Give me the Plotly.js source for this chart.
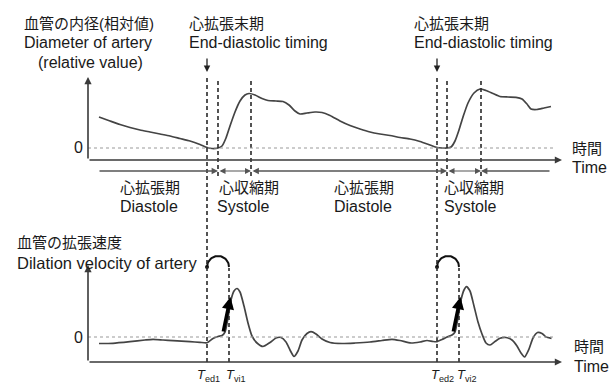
<!DOCTYPE html>
<html>
<head>
<meta charset="utf-8">
<script src="https://cdn.plot.ly/plotly-3.0.1.min.js"></script>
<style>html,body{margin:0;padding:0;background:#fff;}#chart{width:614px;height:385px;}</style>
</head>
<body>
<div id="chart"></div>
<script>
// ---- Data (time in arbitrary units, values relative) ----
// Upper panel: vessel diameter (relative value)
var diamTime = [11,22,32,42,52,62,72,82,92,102,112,119,124,130,134,138,142,147,152,157,161,167,174,180,188,195,201,207,212,219,227,234,242,252,262,272,282,292,302,312,322,332,342,349,354,359,363,367,371,375,380,386,392,398,405,412,420,428,434,439,443,449,456,463];
var diamVal  = [31,27,23.5,20.5,18,16,14,12,9.5,7,3.5,0.5,-0.5,0,2,10,22,36,47,53,54.5,53,49.5,47.5,47,46.5,43,37,34,35,36,35.5,32.5,27,22.5,19,16,14,12.5,10.5,9,6.5,3,0.5,0,0,1,7,18,31,45,55,59,57.5,54.5,51.5,51,50.7,49,44,39,38.5,40,41.5];
// Lower panel: dilation velocity of artery
var velTime = [11,25,42,57,65,75,85,102,112,119,125,130,134,137,140,143,146,149,152,156,160,164,169,175,182,188,193,198,202,206,210,214,219,223,228,234,242,254,267,282,294,304,312,323,332,339,345,349,354,359,364,367,370,373,376,378.5,382,386,390,394,398,402,407,412,418,424,429,433,436.5,441,445,449.5,454,458,463.5];
var velVal  = [-6.5,-6.3,-4.7,-3,-2.3,-3,-3.7,-4.7,-5.3,-5.7,-1.5,0.5,1.5,5,19,37,46,48.5,45,31,14,1,-6,-9.5,-5.5,-1,-0.5,-5,-13,-19.5,-14,-3,3.5,5.3,3,-2,-5.5,-6.5,-6,-5,-3.5,-2.3,-3.5,-6,-5,-3.5,-4.5,-4.7,-2.5,0,2,5,19,37,47,50.3,46,31,15,3,-6,-8,-4.5,-1.3,-0.5,-3,-9,-16,-20,-12,-1,4.5,3.5,0,-1.3];
// Event timings
var tEd = [119, 349];        // end-diastolic timing T_ed
var tSysStart = [130, 359];  // systole start
var tPeak = [163, 393];      // diameter peak (end of systole)
var tVi = [141, 371];        // T_vi
var edLabels = ['<i>T</i><sub>ed1</sub>', '<i>T</i><sub>ed2</sub>'];
var viLabels = ['<i>T</i><sub>vi1</sub>', '<i>T</i><sub>vi2</sub>'];

var W = 614, H = 385;
var FONT = 'Liberation Sans, Arial, Noto Sans CJK JP, sans-serif';
var LINE = '#3a3a3a';

function txt(text, px, py, xa, size) {
  return {xref:'paper', yref:'paper', x: px / W, y: 1 - py / H, xanchor: xa || 'left', yanchor: 'middle',
    showarrow: false, text: text, font: {family: FONT, size: size || 16, color: '#1a1a1a'}};
}
function arr(x0, y0, x1, y1, yref, o) {
  o = o || {};
  return {x: x1, y: y1, ax: x0, ay: y0, xref: 'x', yref: yref, axref: 'x', ayref: yref,
    showarrow: true, text: '', arrowhead: o.head == null ? 2 : o.head, arrowsize: o.size || 1,
    arrowwidth: o.width || 1.5, arrowcolor: o.color || LINE, standoff: 0, startstandoff: 0,
    arrowside: o.side || 'end', startarrowhead: o.head == null ? 2 : o.head, startarrowsize: o.size || 1};
}

var traces = [];
traces.push({x: diamTime, y: diamVal, xaxis: 'x', yaxis: 'y', mode: 'lines',
  line: {color: '#444', width: 1.7, shape: 'spline', smoothing: 0.6}, hoverinfo: 'skip'});
traces.push({x: velTime, y: velVal, xaxis: 'x', yaxis: 'y2', mode: 'lines',
  line: {color: '#444', width: 1.7, shape: 'spline', smoothing: 0.6}, hoverinfo: 'skip'});

// arcs between T_ed and T_vi
var ARC_BASE = 70;
for (var i = 0; i < tEd.length; i++) {
  var c = (tEd[i] + tVi[i]) / 2, r = (tVi[i] - tEd[i]) / 2, ax = [], ay = [];
  for (var k = 0; k <= 40; k++) {
    var a = Math.PI * (1 - k / 40);
    ax.push(c + r * Math.cos(a)); ay.push(ARC_BASE + r * Math.sin(a));
  }
  traces.push({x: ax, y: ay, xaxis: 'x', yaxis: 'y2', mode: 'lines', line: {color: '#111', width: 2}, hoverinfo: 'skip'});
  traces.push({x: [tEd[i]], y: [ARC_BASE], xaxis: 'x', yaxis: 'y2', mode: 'markers', marker: {color: '#111', size: 4}, hoverinfo: 'skip'});
}

var shapes = [];
function vline(t, py0, py1) {
  shapes.push({type: 'line', xref: 'x', yref: 'paper', x0: t, x1: t, y0: 1 - py1 / H, y1: 1 - py0 / H,
    line: {color: '#2a2a2a', width: 1.6, dash: '4px,3px'}});
}
for (var i = 0; i < tEd.length; i++) {
  vline(tEd[i], 78, 362);
  vline(tSysStart[i], 78, 176);
  vline(tPeak[i], 78, 176);
  vline(tVi[i], 268, 362);
}
// zero reference lines
shapes.push({type: 'line', xref: 'x', yref: 'y', x0: 0, x1: 467, y0: 0, y1: 0, line: {color: '#9a9a9a', width: 1.2, dash: 'dot'}});
shapes.push({type: 'line', xref: 'x', yref: 'y2', x0: 0, x1: 467, y0: 0, y1: 0, line: {color: '#9a9a9a', width: 1.2, dash: 'dot'}});

var ann = [];
// axes
ann.push(arr(0, -12, 0, 71, 'y', {width: 1.6, size: 0.9}));
ann.push(arr(0, -12, 474, -12, 'y', {width: 1.6, size: 0.9}));
ann.push(arr(0, -25, 0, 72, 'y2', {width: 1.6, size: 0.9}));
ann.push(arr(0, -25, 474, -25, 'y2', {width: 1.6, size: 0.9}));
// phase arrows
ann.push(arr(10, -23, tSysStart[0], -23, 'y', {width: 1.6, size: 0.8, color: '#555'}));
ann.push(arr(tSysStart[0], -23, tPeak[0], -23, 'y', {width: 1.2, size: 1, side: 'end+start', color: '#555'}));
ann.push(arr(tPeak[0], -23, tSysStart[1], -23, 'y', {width: 1.6, size: 0.8, side: 'end+start', color: '#555'}));
ann.push(arr(tSysStart[1], -23, tPeak[1], -23, 'y', {width: 1.2, size: 1, side: 'end+start', color: '#555'}));
ann.push(arr(463, -23, tPeak[1], -23, 'y', {width: 1.6, size: 0.8, color: '#555'}));
// end-diastolic pointers and velocity arrows
for (var i = 0; i < tEd.length; i++) {
  ann.push(arr(tEd[i], 91, tEd[i], 76, 'y', {width: 1.3, size: 1, color: '#222'}));
  ann.push(arr(tVi[i] - 6, 4, tVi[i] + 1.5, 40, 'y2', {width: 3.5, size: 0.7, color: '#000'}));
}
// texts
var JP = 15;
ann.push(txt('血管の内径(相対値)', 22, 23, 'left', JP));
ann.push(txt('Diameter of artery', 22, 42));
ann.push(txt('(relative value)', 36, 62));
ann.push(txt('心拡張末期', 187, 23, 'left', JP));
ann.push(txt('End-diastolic timing', 187, 42));
ann.push(txt('心拡張末期', 412, 23, 'left', JP));
ann.push(txt('End-diastolic timing', 412, 42));
ann.push(txt('0', 78, 147, 'center'));
ann.push(txt('時間', 570, 148, 'left', JP));
ann.push(txt('Time', 570, 168));
ann.push(txt('心拡張期', 118, 188, 'left', JP));
ann.push(txt('Diastole', 118, 207));
ann.push(txt('心収縮期', 217, 188, 'left', JP));
ann.push(txt('Systole', 215, 207));
ann.push(txt('心拡張期', 332, 188, 'left', JP));
ann.push(txt('Diastole', 332, 207));
ann.push(txt('心収縮期', 442, 188, 'left', JP));
ann.push(txt('Systole', 442, 207));
ann.push(txt('血管の拡張速度', 15, 242, 'left', JP));
ann.push(txt('Dilation velocity of artery', 15, 263, 'left', 16.5));
ann.push(txt('0', 78, 337, 'center'));
ann.push(txt('時間', 572, 346, 'left', JP));
ann.push(txt('Time', 572, 366));
ann.push(txt(edLabels[0], 208, 375, 'center', 13));
ann.push(txt(viLabels[0], 236, 375, 'center', 13));
ann.push(txt(edLabels[1], 442, 375, 'center', 13));
ann.push(txt(viLabels[1], 467, 375, 'center', 13));

var layout = {
  width: W, height: H, margin: {l: 0, r: 0, t: 0, b: 0}, showlegend: false,
  paper_bgcolor: '#fff', plot_bgcolor: '#fff',
  xaxis: {range: [-88, 526], visible: false, domain: [0, 1], fixedrange: true},
  yaxis: {range: [-237, 148], visible: false, domain: [0, 1], fixedrange: true},
  yaxis2: {range: [-48, 337], visible: false, overlaying: 'y', fixedrange: true},
  shapes: shapes, annotations: ann
};
Plotly.newPlot('chart', traces, layout, {staticPlot: true, displayModeBar: false});
</script>
</body>
</html>
